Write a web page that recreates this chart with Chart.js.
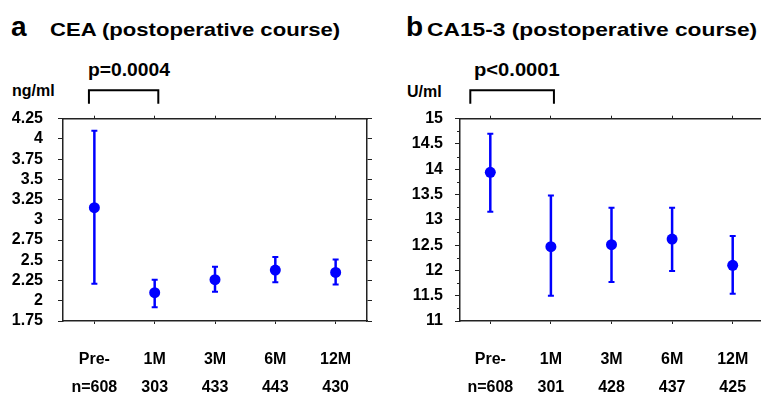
<!DOCTYPE html>
<html>
<head>
<meta charset="utf-8">
<script src="https://cdn.jsdelivr.net/npm/chart.js@4/dist/chart.umd.min.js"></script>
<style>
  html, body { margin: 0; padding: 0; background: #fff; }
  body { position: relative; width: 761px; height: 393px; overflow: hidden; }
  .t { position: absolute; font-family: "Liberation Sans", Arial, sans-serif; font-weight: bold;
       color: #000; line-height: 1; white-space: nowrap; transform-origin: left top; }
  canvas { position: absolute; top: 0; }
</style>
</head>
<body>
<div class="t" style="left:11px;top:13px;font-size:28px">a</div>
<div class="t" style="left:50px;top:20px;font-size:19px;transform:scaleX(1.163)">CEA (postoperative course)</div>
<div class="t" style="left:88px;top:61px;font-size:18px;transform:scaleX(1.07)">p=0.0004</div>
<div class="t" style="left:12px;top:82.5px;font-size:16px">ng/ml</div>

<div class="t" style="left:406px;top:13px;font-size:28px">b</div>
<div class="t" style="left:427px;top:20px;font-size:19px;transform:scaleX(1.198)">CA15-3 (postoperative course)</div>
<div class="t" style="left:474px;top:61px;font-size:18px;transform:scaleX(1.12)">p&lt;0.0001</div>
<div class="t" style="left:407px;top:84px;font-size:16px">U/ml</div>

<canvas id="cea" width="380" height="393" style="left:0"></canvas>
<canvas id="ca" width="400" height="393" style="left:380px"></canvas>

<script>
const Chart = window.Chart

Chart.defaults.font.family = '"Liberation Sans", Arial, sans-serif'
Chart.defaults.color = "#000"
Chart.defaults.plugins.legend.display = false
Chart.defaults.plugins.tooltip.enabled = false

// --- data ---
const periods = ["Pre-", "1M", "3M", "6M", "12M"]

const ceaN = ["n=608", "303", "433", "443", "430"]
const ceaMean = [3.15, 2.10, 2.26, 2.38, 2.35]
const ceaHigh = [4.10, 2.26, 2.42, 2.54, 2.51]
const ceaLow = [2.21, 1.92, 2.11, 2.23, 2.20]

const caN = ["n=608", "301", "428", "437", "425"]
const caMean = [13.94, 12.47, 12.51, 12.62, 12.10]
const caHigh = [14.70, 13.48, 13.24, 13.24, 12.68]
const caLow = [13.16, 11.50, 11.77, 11.99, 11.54]

const AXIS = "#222"
const BLUE = "#0000ff"

// error bars, bracket and minor ticks, all placed through the chart's scales
const extras = {
  id: "extras",
  beforeDatasetsDraw(chart, args, opts) {
    const { ctx, scales: { x, y } } = chart
    ctx.save()
    ctx.strokeStyle = BLUE
    opts.low.forEach((lo, i) => {
      const px = x.getPixelForValue(i)
      const yl = y.getPixelForValue(lo)
      const yh = y.getPixelForValue(opts.high[i])
      ctx.lineWidth = 2.5
      ctx.beginPath()
      ctx.moveTo(px, yl)
      ctx.lineTo(px, yh)
      ctx.stroke()
      ctx.lineWidth = 2
      ctx.beginPath()
      ctx.moveTo(px - 3, yl)
      ctx.lineTo(px + 3, yl)
      ctx.moveTo(px - 3, yh)
      ctx.lineTo(px + 3, yh)
      ctx.stroke()
    })
    ctx.restore()
  },
  afterDraw(chart, args, opts) {
    const { ctx, chartArea, scales: { x, y } } = chart
    ctx.save()
    ctx.strokeStyle = "#000"
    ctx.lineWidth = 2
    // p-value bracket above the chart
    const x0 = x.getPixelForValue(opts.bracket[0])
    const x1 = x.getPixelForValue(opts.bracket[1])
    const top = chartArea.top - 28.5
    const leg = chartArea.top - 15
    ctx.beginPath()
    ctx.moveTo(x0, leg)
    ctx.lineTo(x0, top)
    ctx.lineTo(x1, top)
    ctx.lineTo(x1, leg)
    ctx.stroke()
    // minor ticks on the left axis
    if (opts.minor) {
      ctx.strokeStyle = AXIS
      ctx.lineWidth = 1
      for (let v = y.min + opts.minor; v < y.max; v += opts.minor * 2) {
        const py = Math.round(y.getPixelForValue(v)) + 0.5
        ctx.beginPath()
        ctx.moveTo(chartArea.left - 3, py)
        ctx.lineTo(chartArea.left, py)
        ctx.stroke()
      }
    }
    ctx.restore()
  },
}

const catTicks = (s) => { s.ticks = periods.map((_, i) => ({ value: i })) }

function makePanel(id, p) {
  const canvas = document.getElementById(id)
  return new Chart(canvas, {
    type: "scatter",
    plugins: [extras],
    data: {
      datasets: [
        {
          data: p.mean.map((v, i) => ({ x: i, y: v })),
          backgroundColor: BLUE,
          borderColor: BLUE,
          pointRadius: 5.5,
          borderWidth: 0,
        },
      ],
    },
    options: {
      responsive: false,
      animation: false,
      layout: { padding: 0 },
      scales: {
        x: {
          type: "linear",
          min: p.xMin,
          max: p.xMax,
          afterBuildTicks: catTicks,
          afterFit: (s) => { s.height = 72 },
          grid: { drawOnChartArea: false, tickLength: 3, tickColor: AXIS, tickWidth: 1 },
          border: { color: AXIS, width: 1.5 },
          ticks: {
            padding: 22,
            maxRotation: 0,
            autoSkip: false,
            font: { size: 16, weight: "bold", lineHeight: 1.75 },
            callback: (v) => [periods[v], p.n[v]],
          },
        },
        x2: {
          type: "linear",
          position: "top",
          min: p.xMin,
          max: p.xMax,
          afterBuildTicks: catTicks,
          afterFit: (s) => { s.height = 118.7 },
          grid: { drawOnChartArea: false, tickLength: 3, tickColor: AXIS, tickWidth: 1 },
          border: { color: AXIS, width: 1.5 },
          ticks: { display: false },
        },
        y: {
          min: p.yMin,
          max: p.yMax,
          afterFit: (s) => { s.width = p.left },
          grid: { drawOnChartArea: false, tickLength: 5, tickColor: AXIS, tickWidth: 1 },
          border: { color: AXIS, width: 1.5 },
          ticks: {
            stepSize: p.step,
            padding: p.labelPad,
            autoSkip: false,
            font: { size: 16, weight: "bold" },
            callback: (v) => String(+v.toFixed(2)),
          },
        },
        y2: {
          position: "right",
          min: p.yMin,
          max: p.yMax,
          afterFit: (s) => { s.width = p.right },
          grid: { drawOnChartArea: false, tickLength: 5, tickColor: AXIS, tickWidth: 1 },
          border: { color: AXIS, width: 1.5 },
          ticks: { stepSize: p.step, display: false },
        },
      },
      plugins: {
        extras: { low: p.low, high: p.high, bracket: p.bracket, minor: p.minor },
      },
    },
  })
}

makePanel("cea", {
  mean: ceaMean, low: ceaLow, high: ceaHigh, n: ceaN,
  xMin: -0.52, xMax: 4.52, yMin: 1.75, yMax: 4.25, step: 0.25,
  left: 63, right: 13, labelPad: 15, bracket: [-0.09, 1.06], minor: 0,
})

makePanel("ca", {
  mean: caMean, low: caLow, high: caHigh, n: caN,
  xMin: -0.5, xMax: 4.5, yMin: 11, yMax: 15, step: 0.5,
  left: 80, right: 17, labelPad: 12, bracket: [-0.33, 1.05], minor: 0.25,
})
</script>
</body>
</html>
